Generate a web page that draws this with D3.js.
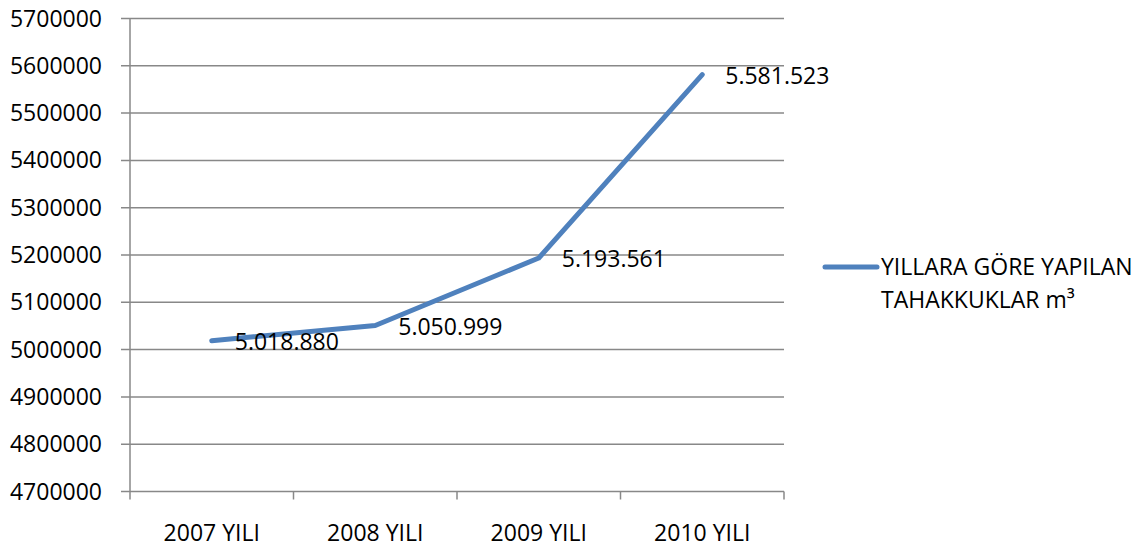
<!DOCTYPE html>
<html><head><meta charset="utf-8">
<script src="https://cdn.jsdelivr.net/npm/d3@7"></script>
<style>
html,body{margin:0;padding:0;background:#fff;}
svg text{font-family:"Open Sans",sans-serif;fill:#000;}
</style></head>
<body>
<svg id="chart" width="1145" height="551"></svg>
<script>
const categories = ["2007 YILI","2008 YILI","2009 YILI","2010 YILI"];
const values = [5018880, 5050999, 5193561, 5581523];
const valueLabels = ["5.018.880","5.050.999","5.193.561","5.581.523"];
const yTicks = [4700000,4800000,4900000,5000000,5100000,5200000,5300000,5400000,5500000,5600000,5700000];
const seriesName = ["YILLARA GÖRE YAPILAN","TAHAKKUKLAR m³"];

const svg = d3.select("#chart");
const pLeft = 130, pRight = 784, pTop = 18.5, pBottom = 491.5;
const x = d3.scaleBand().domain(categories).range([pLeft, pRight]);
const y = d3.scaleLinear().domain([4700000, 5700000]).range([pBottom, pTop]);
const grid = "#888888";
const fs = 23;

// gridlines
svg.append("g").selectAll("line").data(yTicks).join("line")
  .attr("x1", pLeft - 9).attr("x2", pRight)
  .attr("y1", d => y(d)).attr("y2", d => y(d))
  .attr("stroke", grid).attr("stroke-width", 1.5);

// y axis line
svg.append("line").attr("x1", pLeft).attr("x2", pLeft).attr("y1", pTop).attr("y2", pBottom)
  .attr("stroke", grid).attr("stroke-width", 1.5);

// y labels
svg.append("g").selectAll("text").data(yTicks).join("text")
  .attr("x", 102).attr("y", d => y(d)).attr("dy", "0.35em")
  .attr("text-anchor", "end").attr("font-size", fs).text(d => d);

// x ticks
const xb = categories.map(c => x(c)).concat([pRight]);
svg.append("g").selectAll("line").data(xb).join("line")
  .attr("x1", d => d).attr("x2", d => d).attr("y1", pBottom).attr("y2", pBottom + 8)
  .attr("stroke", grid).attr("stroke-width", 1.5);

// x labels
svg.append("g").selectAll("text").data(categories).join("text")
  .attr("x", d => x(d) + x.bandwidth() / 2).attr("y", 541)
  .attr("text-anchor", "middle").attr("font-size", fs).text(d => d);

// line
const pts = categories.map((c, i) => [x(c) + x.bandwidth() / 2, y(values[i])]);
svg.append("path").attr("d", d3.line()(pts)).attr("fill", "none")
  .attr("stroke", "#4f81bd").attr("stroke-width", 5)
  .attr("stroke-linecap", "round").attr("stroke-linejoin", "round");

// data labels
svg.append("g").selectAll("text").data(pts).join("text")
  .attr("x", d => d[0] + 23).attr("y", d => d[1] + 1).attr("dy", "0.35em")
  .attr("font-size", fs).text((d, i) => valueLabels[i]);

// legend
svg.append("line").attr("x1", 825).attr("x2", 877).attr("y1", 267).attr("y2", 267)
  .attr("stroke", "#4f81bd").attr("stroke-width", 5).attr("stroke-linecap", "round");
svg.append("g").selectAll("text").data(seriesName).join("text")
  .attr("x", 881).attr("y", (d, i) => 267 + i * 33).attr("dy", "0.35em")
  .attr("font-size", 23).text(d => d);
</script>
</body></html>
